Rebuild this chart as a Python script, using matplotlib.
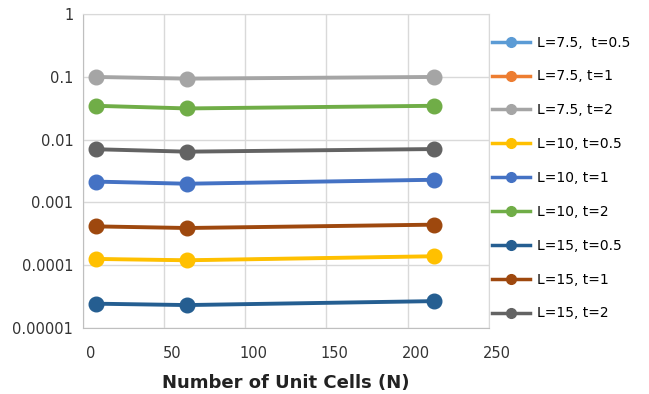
import matplotlib
matplotlib.use('Agg')
import matplotlib.pyplot as plt
import matplotlib.transforms as mtransforms
from matplotlib.ticker import FixedLocator, FuncFormatter

cells = [8, 64, 216]

l75_t05 = [0.000126, 0.000120, 0.000139]
l75_t1 = [0.00215, 0.00199, 0.0023]
l75_t2 = [0.100, 0.094, 0.100]
l10_t05 = [0.000126, 0.000120, 0.000139]
l10_t1 = [0.00215, 0.00199, 0.0023]
l10_t2 = [0.0347, 0.0315, 0.0347]
l15_t05 = [2.44e-5, 2.32e-5, 2.68e-5]
l15_t1 = [0.000416, 0.000392, 0.000443]
l15_t2 = [0.00705, 0.00645, 0.0071]

series = [
    ('L=7.5,  t=0.5', l75_t05, '#5B9BD5'),
    ('L=7.5, t=1', l75_t1, '#ED7D31'),
    ('L=7.5, t=2', l75_t2, '#A5A5A5'),
    ('L=10, t=0.5', l10_t05, '#FFC000'),
    ('L=10, t=1', l10_t1, '#4472C4'),
    ('L=10, t=2', l10_t2, '#70AD47'),
    ('L=15, t=0.5', l15_t05, '#255E91'),
    ('L=15, t=1', l15_t1, '#9E480E'),
    ('L=15, t=2', l15_t2, '#636363'),
]
# the first two series sit right under later ones in the original
hidden = ['L=7.5,  t=0.5', 'L=7.5, t=1']

yticks = [1e-5, 1e-4, 1e-3, 1e-2, 1e-1, 1]
ylabels = ['0.00001', '0.0001', '0.001', '0.01', '0.1', '1']

fig = plt.figure(figsize=(6.49, 3.94), dpi=100)
ax = fig.add_axes([0.128, 0.1675, 0.625, 0.7965])

for name, vals, col in series:
    if name in hidden:
        ax.plot(cells, vals, color=col, linewidth=1.8, marker='o', markersize=8, label=name, zorder=1)
    else:
        ax.plot(cells, vals, color=col, linewidth=2.8, marker='o', markersize=10.5, label=name, zorder=2)

ax.set_yscale('log')
ax.set_ylim(1e-5, 1)
ax.set_xlim(0, 250)
ax.yaxis.set_major_locator(FixedLocator(yticks))
ax.yaxis.set_major_formatter(FuncFormatter(lambda v, p: ylabels[yticks.index(min(yticks, key=lambda t: abs(t - v)))]))
ax.yaxis.set_minor_locator(FixedLocator([]))
ax.set_xticks([0, 50, 100, 150, 200, 250])

ax.grid(True, color='#D9D9D9', linewidth=1)
ax.set_axisbelow(True)
for s in ax.spines.values():
    s.set_color('#D9D9D9')
ax.spines['left'].set_color('#BFBFBF')
ax.spines['bottom'].set_color('#BFBFBF')

ax.tick_params(axis='both', length=0, labelsize=10.5, colors='#333333')
ax.tick_params(axis='y', pad=7)
ax.tick_params(axis='x', pad=13)
offset = mtransforms.ScaledTranslation(8 / 100, 0, fig.dpi_scale_trans)
for lbl in ax.get_xticklabels():
    lbl.set_transform(lbl.get_transform() + offset)

ax.set_xlabel('Number of Unit Cells (N)', fontsize=13, fontweight='bold', color='#222222', labelpad=9)

leg = ax.legend(loc='upper left', bbox_to_anchor=(0.739, 0.9416), bbox_transform=fig.transFigure,
                frameon=False, fontsize=10, labelspacing=1.43, handlelength=2.75,
                handletextpad=0.5)
for line in leg.get_lines():
    line.set_linewidth(2.5)
    line.set_markersize(7)

fig.savefig('out.png', dpi=100)
